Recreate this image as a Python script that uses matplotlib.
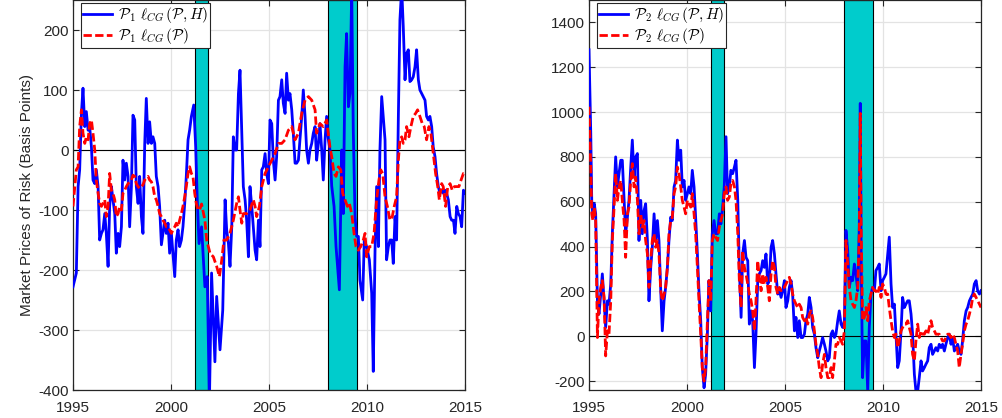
import matplotlib
matplotlib.use("Agg")
import matplotlib.pyplot as plt

plt.rcParams["font.family"] = ["Liberation Sans", "DejaVu Sans"]
plt.rcParams["mathtext.fontset"] = "cm"

# ---------------- data ----------------
years = [1995, 2000, 2005, 2010, 2015]
recessions = [(2001.22, 2001.89), (2007.99, 2009.49)]

p1_ticks = [-400, -300, -200, -100, 0, 100, 200]
p2_ticks = [-200, 0, 200, 400, 600, 800, 1000, 1200, 1400]

# Panel 1, model with hidden factor (P, H)
t_p1_h = [1995.00, 1995.17, 1995.26, 1995.34, 1995.43, 1995.51, 1995.60, 1995.68, 1995.77, 1995.85,
          1995.94, 1996.02, 1996.11, 1996.19, 1996.28, 1996.36, 1996.45, 1996.53, 1996.62, 1996.70,
          1996.79, 1996.87, 1996.96, 1997.04, 1997.13, 1997.21, 1997.30, 1997.38, 1997.47, 1997.55,
          1997.64, 1997.72, 1997.81, 1997.89, 1997.98, 1998.06, 1998.15, 1998.23, 1998.32, 1998.40,
          1998.49, 1998.57, 1998.66, 1998.74, 1998.83, 1998.91, 1999.00, 1999.08, 1999.17, 1999.25,
          1999.34, 1999.42, 1999.51, 1999.59, 1999.68, 1999.76, 1999.85, 1999.93, 2000.02, 2000.10,
          2000.19, 2000.27, 2000.36, 2000.44, 2000.53, 2000.61, 2000.70, 2000.78, 2000.87, 2000.95,
          2001.04, 2001.16, 2001.26, 2001.34, 2001.43, 2001.56, 2001.73, 2001.85, 2001.96, 2002.07,
          2002.24, 2002.33, 2002.50, 2002.64, 2002.76, 2002.84, 2002.93, 2003.01, 2003.10, 2003.18,
          2003.27, 2003.35, 2003.44, 2003.52, 2003.61, 2003.69, 2003.78, 2003.86, 2003.95, 2004.03,
          2004.12, 2004.20, 2004.29, 2004.37, 2004.46, 2004.54, 2004.63, 2004.71, 2004.80, 2004.88,
          2004.97, 2005.05, 2005.14, 2005.22, 2005.31, 2005.39, 2005.48, 2005.56, 2005.65, 2005.73,
          2005.82, 2005.90, 2005.99, 2006.07, 2006.16, 2006.24, 2006.33, 2006.41, 2006.50, 2006.58,
          2006.67, 2006.75, 2006.84, 2006.92, 2007.01, 2007.09, 2007.18, 2007.26, 2007.35, 2007.43,
          2007.52, 2007.60, 2007.69, 2007.77, 2007.86, 2007.94, 2008.03, 2008.11, 2008.20, 2008.32,
          2008.42, 2008.59, 2008.71, 2008.79, 2008.88, 2008.96, 2009.05, 2009.13, 2009.22, 2009.30,
          2009.39, 2009.47, 2009.56, 2009.64, 2009.78, 2009.86, 2009.98, 2010.12, 2010.24, 2010.32,
          2010.41, 2010.49, 2010.58, 2010.66, 2010.75, 2010.83, 2010.92, 2011.00, 2011.09, 2011.17,
          2011.26, 2011.34, 2011.43, 2011.51, 2011.60, 2011.68, 2011.77, 2011.85, 2011.94, 2012.02,
          2012.11, 2012.19, 2012.28, 2012.36, 2012.45, 2012.53, 2012.62, 2012.70, 2012.79, 2012.87,
          2012.96, 2013.04, 2013.13, 2013.21, 2013.30, 2013.38, 2013.47, 2013.55, 2013.64, 2013.72,
          2013.81, 2013.89, 2013.98, 2014.06, 2014.15, 2014.24, 2014.32, 2014.41, 2014.49, 2014.58,
          2014.66, 2014.75, 2014.83, 2014.92, 2015.00]
p1_h = [-228, -205, -61, -33, 61, 103, 39, 64, 33, 39,
        5, -50, -56, -33, -61, -150, -139, -133, -106, -139,
        -194, -94, -61, -83, -106, -172, -139, -161, -128, -17,
        -50, -22, -44, -128, -61, 58, 50, -61, -89, -44,
        -111, -139, 11, 86, 11, 47, 11, 22, 11, -44,
        -61, -94, -158, -139, -117, -139, -122, -172, -139, -172,
        -211, -150, -133, -161, -150, -128, -89, -44, 17, 33,
        56, 75, 5, -83, -156, -128, -228, -211, -420, -205,
        -353, -244, -333, -267, -83, -133, -156, -194, -128, 22,
        0, 0, 94, 133, 28, -61, -83, -117, -178, -61,
        -94, -128, -167, -183, -117, -161, -33, -28, -6, -39,
        -56, 50, 44, -17, -50, -11, 83, 89, 117, 78,
        61, 128, 83, 94, 67, 28, -22, -22, -17, 17,
        56, 100, 56, 0, -22, 0, 11, 28, 39, -17,
        11, 44, 0, -50, 17, 56, 17, 0, -60, -94,
        -161, -233, 0, -106, 139, 194, 72, 94, 265, 33,
        -111, -144, -144, -217, -250, -150, -161, -183, -239, -369,
        -167, -61, -161, 0, 89, 56, 17, -183, -161, -150,
        -150, -189, -111, -150, 56, 217, 270, 206, 117, 161,
        167, 114, 117, 122, 139, 167, 117, 100, 94, 89,
        83, 56, 50, 56, 39, 5, -11, -39, -61, -72,
        -67, -72, -67, -72, -83, -111, -117, -117, -139, -94,
        -106, -111, -128, -67, -72]

# Panel 1, model without hidden factor (P)
t_p1 = [1995.00, 1995.17, 1995.26, 1995.34, 1995.43, 1995.51, 1995.60, 1995.68, 1995.77, 1995.85,
        1995.94, 1996.02, 1996.11, 1996.19, 1996.28, 1996.36, 1996.45, 1996.53, 1996.62, 1996.70,
        1996.79, 1996.87, 1996.96, 1997.04, 1997.13, 1997.21, 1997.30, 1997.38, 1997.47, 1997.55,
        1997.64, 1997.72, 1997.81, 1997.89, 1997.98, 1998.06, 1998.15, 1998.23, 1998.32, 1998.40,
        1998.49, 1998.57, 1998.66, 1998.74, 1998.83, 1998.91, 1999.00, 1999.08, 1999.17, 1999.25,
        1999.34, 1999.42, 1999.51, 1999.59, 1999.68, 1999.76, 1999.85, 1999.93, 2000.02, 2000.10,
        2000.19, 2000.27, 2000.36, 2000.44, 2000.53, 2000.61, 2000.70, 2000.78, 2000.87, 2000.95,
        2001.04, 2001.12, 2001.21, 2001.29, 2001.38, 2001.46, 2001.56, 2001.73, 2001.82, 2001.99,
        2002.16, 2002.33, 2002.47, 2002.59, 2002.70, 2002.84, 2003.01, 2003.18, 2003.35, 2003.44,
        2003.52, 2003.61, 2003.69, 2003.86, 2004.03, 2004.20, 2004.29, 2004.37, 2004.51, 2004.63,
        2004.80, 2004.97, 2005.14, 2005.31, 2005.48, 2005.65, 2005.82, 2005.99, 2006.16, 2006.33,
        2006.50, 2006.67, 2006.84, 2007.01, 2007.18, 2007.35, 2007.43, 2007.60, 2007.77, 2007.94,
        2008.11, 2008.20, 2008.32, 2008.42, 2008.54, 2008.66, 2008.76, 2008.88, 2009.00, 2009.10,
        2009.22, 2009.34, 2009.44, 2009.56, 2009.68, 2009.81, 2009.90, 2009.98, 2010.12, 2010.24,
        2010.36, 2010.49, 2010.61, 2010.70, 2010.80, 2010.92, 2011.04, 2011.17, 2011.29, 2011.39,
        2011.51, 2011.60, 2011.68, 2011.77, 2011.85, 2011.94, 2012.02, 2012.14, 2012.24, 2012.36,
        2012.48, 2012.58, 2012.70, 2012.82, 2012.92, 2013.04, 2013.16, 2013.26, 2013.38, 2013.50,
        2013.61, 2013.69, 2013.81, 2013.89, 2014.01, 2014.12, 2014.24, 2014.35, 2014.46, 2014.58,
        2014.69, 2014.80, 2014.92, 2015.00]
p1 = [-94, -33, -28, 39, 67, 28, 11, 22, 17, 44,
      50, 28, 0, -50, -72, -89, -94, -89, -83, -111,
      -94, -39, -67, -72, -83, -111, -106, -94, -100, -72,
      -67, -61, -56, -53, -50, -42, -44, -56, -61, -64,
      -61, -58, -50, -47, -44, -50, -53, -61, -78, -83,
      -94, -106, -111, -117, -122, -128, -128, -133, -139, -133,
      -128, -122, -128, -117, -106, -94, -78, -61, -39, -28,
      -39, -44, -72, -89, -100, -100, -90, -117, -150, -172,
      -178, -194, -211, -183, -150, -150, -139, -117, -89, -78,
      -100, -122, -106, -106, -100, -83, -94, -111, -94, -61,
      -39, -28, -17, -6, 11, 11, 17, 33, 39, 17,
      28, 61, 83, 89, 83, 67, 28, 44, 39, 50,
      5, -11, -39, -44, -28, -33, -72, -83, -94, -89,
      -106, -139, -161, -167, -161, -150, -139, -178, -161, -161,
      -139, -83, -50, -33, -39, -78, -94, -117, -111, -94,
      -78, -17, 17, 22, 11, 17, 39, 22, 39, 56,
      61, 67, 56, 44, 39, 17, 39, 28, -6, -39,
      -61, -83, -56, -61, -94, -61, -56, -67, -61, -61,
      -61, -50, -39, -39]

# Panel 2, both models share the same dates
t_p2 = [1995.00, 1995.09, 1995.14, 1995.20, 1995.27, 1995.34, 1995.43, 1995.51, 1995.60, 1995.68,
        1995.77, 1995.85, 1995.94, 1996.02, 1996.11, 1996.19, 1996.28, 1996.36, 1996.45, 1996.53,
        1996.62, 1996.70, 1996.79, 1996.87, 1996.96, 1997.04, 1997.13, 1997.21, 1997.30, 1997.38,
        1997.47, 1997.55, 1997.64, 1997.72, 1997.81, 1997.89, 1997.98, 1998.06, 1998.15, 1998.23,
        1998.32, 1998.40, 1998.49, 1998.57, 1998.66, 1998.74, 1998.83, 1998.91, 1999.00, 1999.08,
        1999.17, 1999.25, 1999.34, 1999.42, 1999.51, 1999.59, 1999.68, 1999.76, 1999.85, 1999.93,
        2000.02, 2000.10, 2000.19, 2000.27, 2000.36, 2000.44, 2000.53, 2000.61, 2000.70, 2000.78,
        2000.87, 2000.95, 2001.04, 2001.12, 2001.21, 2001.29, 2001.38, 2001.46, 2001.56, 2001.65,
        2001.73, 2001.82, 2001.90, 2001.99, 2002.07, 2002.16, 2002.24, 2002.33, 2002.42, 2002.50,
        2002.59, 2002.67, 2002.76, 2002.84, 2002.93, 2003.01, 2003.10, 2003.18, 2003.27, 2003.35,
        2003.44, 2003.52, 2003.61, 2003.69, 2003.78, 2003.86, 2003.95, 2004.03, 2004.12, 2004.20,
        2004.29, 2004.37, 2004.46, 2004.54, 2004.63, 2004.71, 2004.80, 2004.88, 2004.97, 2005.05,
        2005.14, 2005.22, 2005.31, 2005.39, 2005.48, 2005.56, 2005.65, 2005.73, 2005.82, 2005.90,
        2005.99, 2006.07, 2006.16, 2006.24, 2006.33, 2006.41, 2006.50, 2006.58, 2006.67, 2006.75,
        2006.84, 2006.92, 2007.01, 2007.09, 2007.18, 2007.26, 2007.35, 2007.43, 2007.52, 2007.60,
        2007.69, 2007.77, 2007.86, 2007.94, 2008.03, 2008.11, 2008.20, 2008.28, 2008.37, 2008.45,
        2008.54, 2008.62, 2008.71, 2008.79, 2008.84, 2008.89, 2008.96, 2009.05, 2009.13, 2009.22,
        2009.30, 2009.39, 2009.47, 2009.56, 2009.64, 2009.73, 2009.81, 2009.90, 2009.98, 2010.07,
        2010.15, 2010.24, 2010.32, 2010.41, 2010.49, 2010.58, 2010.66, 2010.75, 2010.83, 2010.92,
        2011.00, 2011.09, 2011.17, 2011.26, 2011.34, 2011.43, 2011.51, 2011.60, 2011.68, 2011.77,
        2011.85, 2011.94, 2012.02, 2012.11, 2012.19, 2012.28, 2012.36, 2012.45, 2012.53, 2012.62,
        2012.70, 2012.79, 2012.87, 2012.96, 2013.04, 2013.13, 2013.21, 2013.30, 2013.38, 2013.47,
        2013.55, 2013.64, 2013.72, 2013.81, 2013.89, 2013.98, 2014.06, 2014.15, 2014.24, 2014.32,
        2014.41, 2014.49, 2014.58, 2014.66, 2014.75, 2014.83, 2014.92, 2015.00]
p2_h = [1278, 905, 606, 531, 591, 546, 158, 99, 188, 278,
        158, 39, 158, 143, 233, 457, 636, 800, 666, 725,
        785, 785, 606, 457, 531, 606, 755, 875, 710, 800,
        815, 427, 606, 457, 561, 591, 427, 158, 307, 397,
        546, 427, 516, 427, 203, 24, 158, 218, 307, 427,
        531, 516, 666, 695, 875, 785, 830, 666, 695, 606,
        636, 666, 636, 740, 666, 531, 367, 203, 69, -140,
        -230, -170, 9, 248, 113, 457, 516, 457, 457, 546,
        501, 576, 666, 890, 636, 666, 740, 725, 755, 785,
        606, 307, 84, 367, 427, 352, 337, 54, 113, 69,
        -140, 9, 248, 278, 293, 337, 307, 367, 233, 248,
        397, 427, 367, 278, 188, 203, 173, 203, 248, 128,
        158, 218, 248, 188, 24, 84, -6, 69, -6, -6,
        9, 69, 99, 173, 128, 39, 9, -51, -96, -66,
        -36, -6, -36, -66, -110, -96, 9, 24, -6, 9,
        69, 113, 54, 39, 69, 472, 382, 218, 263, 248,
        322, 278, 203, 487, 1039, 307, -185, -21, -21, -245,
        39, 188, 218, 203, 293, 307, 322, 203, 248, 263,
        278, 367, 442, 233, 128, 143, 9, -140, -110, 24,
        173, 128, 143, 158, 158, 99, 9, -170, -245, -245,
        -185, -110, -155, -140, -125, -110, -51, -36, -81, -66,
        -51, -66, -36, -51, -36, -66, -36, -6, 9, -36,
        -6, -66, -51, -36, -66, -81, -21, 69, 113, 128,
        158, 173, 188, 233, 248, 203, 188, 203]
p2 = [1024, 755, 546, 516, 576, 516, -6, 158, 218, 248,
      173, -88, 24, 9, 158, 427, 576, 725, 606, 666,
      695, 606, 516, 352, 546, 576, 695, 770, 666, 710,
      606, 457, 546, 487, 516, 427, 367, 218, 337, 427,
      457, 397, 427, 367, 203, 158, 188, 218, 307, 457,
      516, 531, 636, 666, 755, 725, 666, 606, 576, 546,
      606, 591, 576, 636, 546, 457, 307, 158, 9, -140,
      -200, -140, 69, 248, 158, 427, 457, 442, 427, 487,
      516, 546, 636, 666, 606, 621, 681, 695, 666, 606,
      457, 248, 128, 382, 307, 278, 233, 188, 158, 113,
      24, 158, 337, 263, 203, 278, 233, 263, 218, 158,
      278, 337, 307, 218, 188, 218, 203, 218, 218, 233,
      248, 263, 233, 188, 158, 143, 128, 143, 128, 84,
      69, 84, 54, 99, 113, 84, 24, -36, -81, -140,
      -185, -125, -81, -140, -185, -185, -140, -185, -110, -36,
      -36, -6, -21, -36, 24, 427, 322, 218, 158, 143,
      128, 158, 218, 457, 994, 457, 69, 84, 128, 69,
      158, 188, 218, 203, 203, 188, 218, 173, 233, 218,
      188, 188, 128, 69, 24, -6, 9, -51, -21, 24,
      39, 54, 54, 69, 39, 9, -81, -110, -21, 54,
      -6, 24, 9, 9, 24, 9, 39, 69, 39, 24,
      9, 9, 9, -6, -21, -21, -6, 9, 9, -6,
      9, -6, -36, -66, -140, -81, -36, 24, 54, 69,
      99, 128, 173, 188, 173, 158, 143, 128]

# ---------------- figure ----------------
fig = plt.figure(figsize=(10.02, 4.18), dpi=100)
ax1 = fig.add_axes([73 / 1002, 28 / 418, 392 / 1002, 390 / 418])
ax2 = fig.add_axes([589 / 1002, 28 / 418, 392 / 1002, 390 / 418])

BLUE = "#0000ff"
RED = "#ff0000"
BAND = "#00cccc"
TXT = "#262626"


def style_panel(ax, ylim, yticks):
    ax.set_xlim(years[0], years[-1])
    ax.set_ylim(*ylim)
    ax.set_xticks(years)
    ax.set_yticks(yticks)
    ax.set_xticklabels([str(y) for y in years])
    ax.set_yticklabels([str(v) for v in yticks])
    ax.grid(True, color="#e3e3e3", linewidth=0.9, zorder=0)
    ax.set_axisbelow(True)
    ax.tick_params(direction="in", length=4, width=0.8, colors=TXT,
                   labelsize=11, top=True, right=True,
                   labeltop=False, labelright=False, pad=3)
    ax.tick_params(axis="x", pad=8)
    for sp in ax.spines.values():
        sp.set_color(TXT)
        sp.set_linewidth(0.9)
    for a, b in recessions:
        ax.axvspan(a, b, facecolor=BAND, edgecolor="black", linewidth=0.8, zorder=1)
    ax.axhline(0, color="black", linewidth=0.8, zorder=2)


def draw_lines(ax, tb, yb, tr, yr, labels):
    ax.plot(tb, yb, color=BLUE, linewidth=2.0, zorder=3, label=labels[0])
    ax.plot(tr, yr, color=RED, linewidth=2.0, linestyle=(0, (3.0, 1.2)),
            zorder=4, label=labels[1])
    leg = ax.legend(loc="upper left", bbox_to_anchor=(8 / 392, 1 - 3 / 390),
                    borderaxespad=0, fontsize=11, frameon=True, fancybox=False,
                    handlelength=1.9, handletextpad=0.35, borderpad=0.15,
                    labelspacing=0.05)
    leg.get_frame().set_edgecolor(TXT)
    leg.get_frame().set_linewidth(0.8)
    leg.get_frame().set_alpha(1)
    leg.set_zorder(10)


style_panel(ax1, (-400, 250), p1_ticks)
draw_lines(ax1, t_p1_h, p1_h, t_p1, p1,
           [r"$\mathcal{P}_1\ \ell_{CG}\,(\mathcal{P},H)$",
            r"$\mathcal{P}_1\ \ell_{CG}\,(\mathcal{P})$"])
ax1.set_ylabel("Market Prices of Risk (Basis Points)", fontsize=11, color=TXT, labelpad=3)

style_panel(ax2, (-240, 1500), p2_ticks)
draw_lines(ax2, t_p2, p2_h, t_p2, p2,
           [r"$\mathcal{P}_2\ \ell_{CG}\,(\mathcal{P},H)$",
            r"$\mathcal{P}_2\ \ell_{CG}\,(\mathcal{P})$"])

fig.savefig("out.png", dpi=100)
